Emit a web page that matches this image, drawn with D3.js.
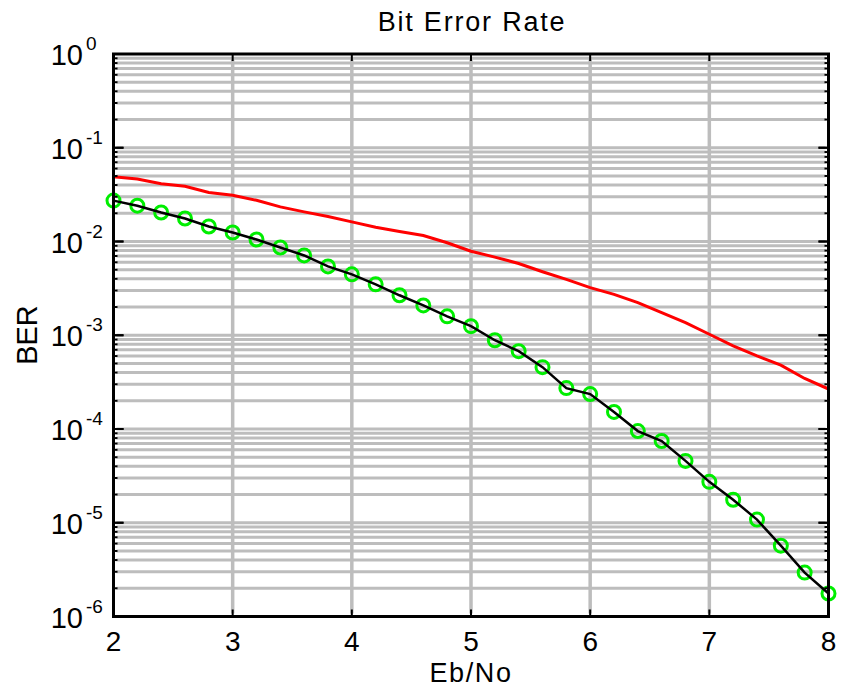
<!DOCTYPE html>
<html>
<head>
<meta charset="utf-8">
<script src="https://cdn.jsdelivr.net/npm/d3@7"></script>
<style>
  body { margin: 0; background: #fff; }
  text { font-family: "Liberation Sans", Arial, sans-serif; fill: #000; }
</style>
</head>
<body>
<div id="chart"></div>
<script>
// Eb/No values (dB)
const ebno = d3.range(31).map(i => 2 + i * 0.2);

// simulated BER (black line, green circles)
const berSim = [0.0273, 0.0241, 0.0204, 0.0176, 0.01445, 0.01247, 0.0105, 0.00863, 0.0071, 0.00542,
  0.00446, 0.00349, 0.00267, 0.00208, 0.00159, 0.00125, 0.000885, 0.000676, 0.000457, 0.000273,
  0.000236, 0.000152, 0.000095, 0.0000745, 0.0000457, 0.0000273, 0.0000176, 0.0000108, 0.00000569,
  0.00000294, 0.00000176];

// reference BER (red line)
const berRef = [0.0491, 0.0465, 0.0414, 0.0388, 0.0334, 0.0311, 0.0275, 0.0234, 0.0207, 0.01845,
  0.0162, 0.0142, 0.0128, 0.01158, 0.00969, 0.00788, 0.00681, 0.00583, 0.00476, 0.00394,
  0.00322, 0.00273, 0.00223, 0.00174, 0.00136, 0.001025, 0.000769, 0.000602, 0.00048,
  0.000346, 0.000267];

const xTicks = [2, 3, 4, 5, 6, 7, 8];
const yExponents = [0, -1, -2, -3, -4, -5, -6];

const width = 843, height = 689;
const box = { left: 113.5, right: 828.5, top: 54, bottom: 616.5 };

const svg = d3.select("#chart").append("svg")
  .attr("width", width)
  .attr("height", height);

svg.append("rect").attr("width", width).attr("height", height).attr("fill", "#fff");

const x = d3.scaleLinear().domain([2, 8]).range([box.left, box.right]);
const y = d3.scaleLog().domain([1e-6, 1]).range([box.bottom, box.top]);

const gridColor = "#bdbdbd";
const allLogTicks = y.ticks().filter(v => v < 0.999 && v > 1.001e-6);
const isMajor = d => Math.abs(Math.log10(d) - Math.round(Math.log10(d))) < 1e-6;

// grid
const grid = svg.append("g");
grid.selectAll("line.h")
  .data(allLogTicks)
  .enter().append("line")
  .attr("x1", box.left + 3).attr("x2", box.right - 3)
  .attr("y1", d => y(d)).attr("y2", d => y(d))
  .attr("stroke", gridColor).attr("stroke-width", 3);

grid.selectAll("line.v")
  .data(xTicks.slice(1, -1))
  .enter().append("line")
  .attr("x1", d => x(d)).attr("x2", d => x(d))
  .attr("y1", box.top + 3).attr("y2", box.bottom - 3)
  .attr("stroke", gridColor).attr("stroke-width", 3.5);

// clip for data
svg.append("clipPath").attr("id", "clip")
  .append("rect").attr("x", box.left).attr("y", box.top)
  .attr("width", box.right - box.left).attr("height", box.bottom - box.top);

const plot = svg.append("g").attr("clip-path", "url(#clip)");

const line = d3.line().x(d => x(d[0])).y(d => y(d[1]));

plot.append("path")
  .datum(ebno.map((e, i) => [e, berRef[i]]))
  .attr("d", line)
  .attr("fill", "none").attr("stroke", "#ff0000").attr("stroke-width", 3);

svg.append("g").selectAll("circle")
  .data(ebno.map((e, i) => [e, berSim[i]]))
  .enter().append("circle")
  .attr("cx", d => x(d[0])).attr("cy", d => y(d[1]))
  .attr("r", 6.5)
  .attr("fill", "none").attr("stroke", "#00ee00").attr("stroke-width", 3);

svg.append("path")
  .datum(ebno.map((e, i) => [e, berSim[i]]))
  .attr("d", line)
  .attr("fill", "none").attr("stroke", "#000").attr("stroke-width", 2.5);

// ticks
const yTickVals = allLogTicks.concat(yExponents.map(e => Math.pow(10, e)));
const ticks = svg.append("g").attr("stroke", "#000").attr("stroke-width", 2);
ticks.selectAll("line.yl")
  .data(yTickVals)
  .enter().append("line")
  .attr("x1", box.left).attr("x2", d => box.left + (isMajor(d) ? 10 : 4))
  .attr("y1", d => y(d)).attr("y2", d => y(d));
ticks.selectAll("line.yr")
  .data(yTickVals)
  .enter().append("line")
  .attr("x1", box.right).attr("x2", d => box.right - (isMajor(d) ? 10 : 4))
  .attr("y1", d => y(d)).attr("y2", d => y(d));
ticks.selectAll("line.xb")
  .data(xTicks)
  .enter().append("line")
  .attr("x1", d => x(d)).attr("x2", d => x(d))
  .attr("y1", box.bottom).attr("y2", box.bottom - 7);
ticks.selectAll("line.xt")
  .data(xTicks)
  .enter().append("line")
  .attr("x1", d => x(d)).attr("x2", d => x(d))
  .attr("y1", box.top).attr("y2", box.top + 7);

// frame
svg.append("rect")
  .attr("x", box.left).attr("y", box.top)
  .attr("width", box.right - box.left).attr("height", box.bottom - box.top)
  .attr("fill", "none").attr("stroke", "#000").attr("stroke-width", 3);

// tick labels
svg.append("g").selectAll("text")
  .data(xTicks)
  .enter().append("text")
  .attr("x", d => x(d)).attr("y", box.bottom + 34)
  .attr("text-anchor", "middle")
  .attr("font-size", 28)
  .text(d => d);

const yl = svg.append("g").selectAll("g")
  .data(yExponents)
  .enter().append("g");
yl.append("text")
  .attr("x", 83).attr("y", d => y(Math.pow(10, d)) + 11)
  .attr("text-anchor", "end")
  .attr("font-size", 29)
  .text("10");
yl.append("text")
  .attr("x", 86).attr("y", d => y(Math.pow(10, d)) - 4)
  .attr("font-size", 19)
  .text(d => d === 0 ? "0" : "-" + Math.abs(d));

// titles
svg.append("text")
  .attr("x", 472).attr("y", 31)
  .attr("text-anchor", "middle")
  .attr("font-size", 27).attr("letter-spacing", 1.8)
  .text("Bit Error Rate");

svg.append("text")
  .attr("x", 471).attr("y", 682)
  .attr("text-anchor", "middle")
  .attr("font-size", 27).attr("letter-spacing", 1.6)
  .text("Eb/No");

svg.append("text")
  .attr("transform", "translate(37,335) rotate(-90)")
  .attr("text-anchor", "middle")
  .attr("font-size", 29)
  .text("BER");
</script>
</body>
</html>
